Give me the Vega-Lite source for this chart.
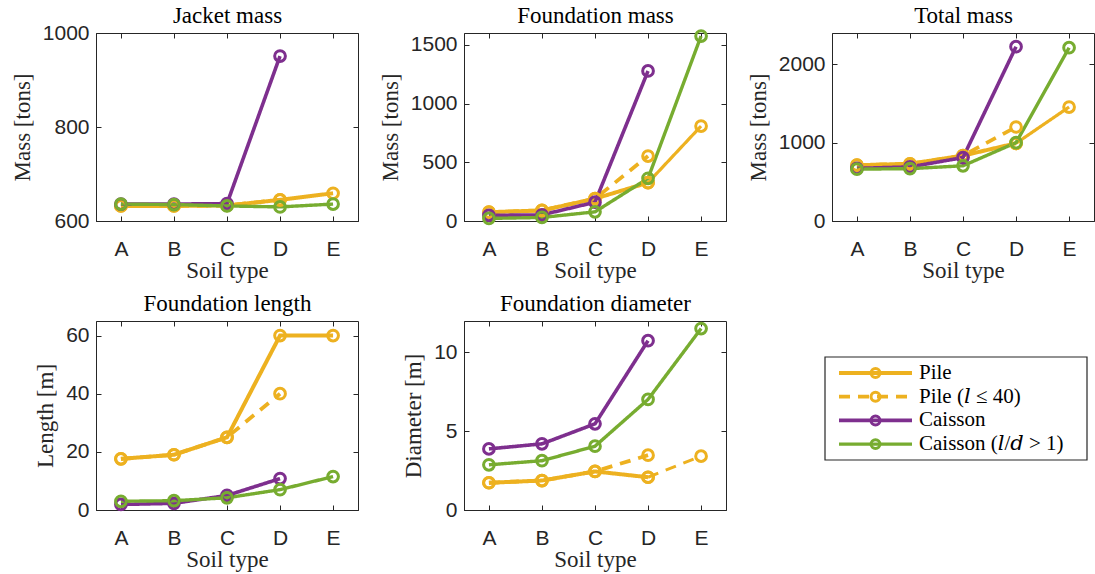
{
  "$schema": "https://vega.github.io/schema/vega-lite/v6.json",
  "padding": {"left": 10, "top": 4, "right": 0, "bottom": 0},
  "background": "white",
  "spacing": {"row": 9, "column": 19},
  "config": {
    "view": {"stroke": "#262626", "strokeWidth": 1},
    "axis": {"grid": false, "tickSize": -5, "tickColor": "#262626", "domainColor": "#262626", "labelColor": "#262626", "titleColor": "#262626", "labelFont": "Liberation Sans", "labelFontSize": 21, "titleFont": "Liberation Serif", "titleFontSize": 23, "titleFontWeight": "normal", "labelAngle": 0},
    "axisX": {"labelPadding": 22, "titlePadding": 0},
    "axisY": {"labelPadding": 12, "titlePadding": 8, "format": "d"}
  },
  "datasets": {
    "d": [
      {"panel": "Jacket mass", "series": "Pile", "soil": "A", "value": 632},
      {"panel": "Jacket mass", "series": "Pile", "soil": "B", "value": 632},
      {"panel": "Jacket mass", "series": "Pile", "soil": "C", "value": 633},
      {"panel": "Jacket mass", "series": "Pile", "soil": "D", "value": 645},
      {"panel": "Jacket mass", "series": "Pile", "soil": "E", "value": 659},
      {"panel": "Jacket mass", "series": "Pile (l ≤ 40)", "soil": "A", "value": 632},
      {"panel": "Jacket mass", "series": "Pile (l ≤ 40)", "soil": "B", "value": 632},
      {"panel": "Jacket mass", "series": "Pile (l ≤ 40)", "soil": "C", "value": 633},
      {"panel": "Jacket mass", "series": "Pile (l ≤ 40)", "soil": "D", "value": 645},
      {"panel": "Jacket mass", "series": "Caisson", "soil": "A", "value": 636},
      {"panel": "Jacket mass", "series": "Caisson", "soil": "B", "value": 636},
      {"panel": "Jacket mass", "series": "Caisson", "soil": "C", "value": 637},
      {"panel": "Jacket mass", "series": "Caisson", "soil": "D", "value": 951},
      {"panel": "Jacket mass", "series": "Caisson (l/d > 1)", "soil": "A", "value": 636},
      {"panel": "Jacket mass", "series": "Caisson (l/d > 1)", "soil": "B", "value": 635},
      {"panel": "Jacket mass", "series": "Caisson (l/d > 1)", "soil": "C", "value": 632},
      {"panel": "Jacket mass", "series": "Caisson (l/d > 1)", "soil": "D", "value": 630},
      {"panel": "Jacket mass", "series": "Caisson (l/d > 1)", "soil": "E", "value": 636},

      {"panel": "Foundation mass", "series": "Pile", "soil": "A", "value": 75},
      {"panel": "Foundation mass", "series": "Pile", "soil": "B", "value": 90},
      {"panel": "Foundation mass", "series": "Pile", "soil": "C", "value": 190},
      {"panel": "Foundation mass", "series": "Pile", "soil": "D", "value": 326},
      {"panel": "Foundation mass", "series": "Pile (thin)", "soil": "D", "value": 326},
      {"panel": "Foundation mass", "series": "Pile (thin)", "soil": "E", "value": 808},
      {"panel": "Foundation mass", "series": "Pile (l ≤ 40)", "soil": "A", "value": 75},
      {"panel": "Foundation mass", "series": "Pile (l ≤ 40)", "soil": "B", "value": 90},
      {"panel": "Foundation mass", "series": "Pile (l ≤ 40)", "soil": "C", "value": 190},
      {"panel": "Foundation mass", "series": "Pile (l ≤ 40)", "soil": "D", "value": 553},
      {"panel": "Foundation mass", "series": "Caisson", "soil": "A", "value": 48},
      {"panel": "Foundation mass", "series": "Caisson", "soil": "B", "value": 52},
      {"panel": "Foundation mass", "series": "Caisson", "soil": "C", "value": 160},
      {"panel": "Foundation mass", "series": "Caisson", "soil": "D", "value": 1277},
      {"panel": "Foundation mass", "series": "Caisson (l/d > 1)", "soil": "A", "value": 22},
      {"panel": "Foundation mass", "series": "Caisson (l/d > 1)", "soil": "B", "value": 30},
      {"panel": "Foundation mass", "series": "Caisson (l/d > 1)", "soil": "C", "value": 78},
      {"panel": "Foundation mass", "series": "Caisson (l/d > 1)", "soil": "D", "value": 363},
      {"panel": "Foundation mass", "series": "Caisson (l/d > 1)", "soil": "E", "value": 1574},

      {"panel": "Total mass", "series": "Pile", "soil": "A", "value": 712},
      {"panel": "Total mass", "series": "Pile", "soil": "B", "value": 730},
      {"panel": "Total mass", "series": "Pile", "soil": "C", "value": 835},
      {"panel": "Total mass", "series": "Pile", "soil": "D", "value": 992},
      {"panel": "Total mass", "series": "Pile (thin)", "soil": "D", "value": 992},
      {"panel": "Total mass", "series": "Pile (thin)", "soil": "E", "value": 1455},
      {"panel": "Total mass", "series": "Pile (l ≤ 40)", "soil": "A", "value": 712},
      {"panel": "Total mass", "series": "Pile (l ≤ 40)", "soil": "B", "value": 730},
      {"panel": "Total mass", "series": "Pile (l ≤ 40)", "soil": "C", "value": 835},
      {"panel": "Total mass", "series": "Pile (l ≤ 40)", "soil": "D", "value": 1200},
      {"panel": "Total mass", "series": "Caisson", "soil": "A", "value": 672},
      {"panel": "Total mass", "series": "Caisson", "soil": "B", "value": 690},
      {"panel": "Total mass", "series": "Caisson", "soil": "C", "value": 810},
      {"panel": "Total mass", "series": "Caisson", "soil": "D", "value": 2225},
      {"panel": "Total mass", "series": "Caisson (l/d > 1)", "soil": "A", "value": 662},
      {"panel": "Total mass", "series": "Caisson (l/d > 1)", "soil": "B", "value": 668},
      {"panel": "Total mass", "series": "Caisson (l/d > 1)", "soil": "C", "value": 705},
      {"panel": "Total mass", "series": "Caisson (l/d > 1)", "soil": "D", "value": 1000},
      {"panel": "Total mass", "series": "Caisson (l/d > 1)", "soil": "E", "value": 2212},

      {"panel": "Foundation length", "series": "Pile", "soil": "A", "value": 17.6},
      {"panel": "Foundation length", "series": "Pile", "soil": "B", "value": 19},
      {"panel": "Foundation length", "series": "Pile", "soil": "C", "value": 25},
      {"panel": "Foundation length", "series": "Pile", "soil": "D", "value": 60},
      {"panel": "Foundation length", "series": "Pile", "soil": "E", "value": 60},
      {"panel": "Foundation length", "series": "Pile (l ≤ 40)", "soil": "A", "value": 17.6},
      {"panel": "Foundation length", "series": "Pile (l ≤ 40)", "soil": "B", "value": 19},
      {"panel": "Foundation length", "series": "Pile (l ≤ 40)", "soil": "C", "value": 25},
      {"panel": "Foundation length", "series": "Pile (l ≤ 40)", "soil": "D", "value": 40},
      {"panel": "Foundation length", "series": "Caisson", "soil": "A", "value": 1.9},
      {"panel": "Foundation length", "series": "Caisson", "soil": "B", "value": 2.3},
      {"panel": "Foundation length", "series": "Caisson", "soil": "C", "value": 5},
      {"panel": "Foundation length", "series": "Caisson", "soil": "D", "value": 10.8},
      {"panel": "Foundation length", "series": "Caisson (l/d > 1)", "soil": "A", "value": 3},
      {"panel": "Foundation length", "series": "Caisson (l/d > 1)", "soil": "B", "value": 3.2},
      {"panel": "Foundation length", "series": "Caisson (l/d > 1)", "soil": "C", "value": 4.2},
      {"panel": "Foundation length", "series": "Caisson (l/d > 1)", "soil": "D", "value": 7},
      {"panel": "Foundation length", "series": "Caisson (l/d > 1)", "soil": "E", "value": 11.5},

      {"panel": "Foundation diameter", "series": "Pile", "soil": "A", "value": 1.73},
      {"panel": "Foundation diameter", "series": "Pile", "soil": "B", "value": 1.87},
      {"panel": "Foundation diameter", "series": "Pile", "soil": "C", "value": 2.45},
      {"panel": "Foundation diameter", "series": "Pile", "soil": "D", "value": 2.08},
      {"panel": "Foundation diameter", "series": "Pile (dashed)", "soil": "D", "value": 2.08},
      {"panel": "Foundation diameter", "series": "Pile (dashed)", "soil": "E", "value": 3.42},
      {"panel": "Foundation diameter", "series": "Pile (l ≤ 40)", "soil": "A", "value": 1.73},
      {"panel": "Foundation diameter", "series": "Pile (l ≤ 40)", "soil": "B", "value": 1.87},
      {"panel": "Foundation diameter", "series": "Pile (l ≤ 40)", "soil": "C", "value": 2.45},
      {"panel": "Foundation diameter", "series": "Pile (l ≤ 40)", "soil": "D", "value": 3.48},
      {"panel": "Foundation diameter", "series": "Caisson", "soil": "A", "value": 3.88},
      {"panel": "Foundation diameter", "series": "Caisson", "soil": "B", "value": 4.2},
      {"panel": "Foundation diameter", "series": "Caisson", "soil": "C", "value": 5.47},
      {"panel": "Foundation diameter", "series": "Caisson", "soil": "D", "value": 10.75},
      {"panel": "Foundation diameter", "series": "Caisson (l/d > 1)", "soil": "A", "value": 2.87},
      {"panel": "Foundation diameter", "series": "Caisson (l/d > 1)", "soil": "B", "value": 3.13},
      {"panel": "Foundation diameter", "series": "Caisson (l/d > 1)", "soil": "C", "value": 4.05},
      {"panel": "Foundation diameter", "series": "Caisson (l/d > 1)", "soil": "D", "value": 7.02},
      {"panel": "Foundation diameter", "series": "Caisson (l/d > 1)", "soil": "E", "value": 11.52}
    ],
    "leg": [
      {"series": "Pile", "label": "Pile", "rank": 1},
      {"series": "Pile (l ≤ 40)", "label": "Pile (𝑙 ≤ 40)", "rank": 2},
      {"series": "Caisson", "label": "Caisson", "rank": 3},
      {"series": "Caisson (l/d > 1)", "label": "Caisson (𝑙/𝑑 > 1)", "rank": 4}
    ]
  },
  "columns": 3,
  "concat": [
    {
      "width": 262, "height": 188,
      "data": {"name": "d"},
      "transform": [{"filter": "datum.panel == 'Jacket mass'"}],
      "layer": [
        {"mark": {"type": "line"}, "encoding": {
          "x": {"field": "soil", "type": "ordinal", "scale": {"type": "point", "padding": 0.47, "domain": ["A", "B", "C", "D", "E"]}, "axis": {"title": "Soil type"}},
          "y": {"field": "value", "type": "quantitative", "scale": {"domain": [600, 1000], "nice": false, "zero": false}, "axis": {"values": [600, 800, 1000], "title": "Mass [tons]"}},
          "color": {"field": "series", "type": "nominal", "legend": null, "scale": {"domain": ["Pile", "Pile (l ≤ 40)", "Caisson", "Caisson (l/d > 1)", "Pile (thin)", "Pile (dashed)"], "range": ["#EDB120", "#EDB120", "#7E2F8E", "#77AC30", "#EDB120", "#EDB120"]}},
          "strokeDash": {"field": "series", "type": "nominal", "legend": null, "scale": {"domain": ["Pile", "Pile (l ≤ 40)", "Caisson", "Caisson (l/d > 1)", "Pile (thin)", "Pile (dashed)"], "range": [[1, 0], [11, 8], [1, 0], [1, 0], [1, 0], [11, 8]]}},
          "strokeWidth": {"field": "series", "type": "nominal", "legend": null, "scale": {"domain": ["Pile", "Pile (l ≤ 40)", "Caisson", "Caisson (l/d > 1)", "Pile (thin)", "Pile (dashed)"], "range": [4, 3, 4, 4, 2.6, 3]}}
        }},
        {"mark": {"type": "point", "shape": "circle", "filled": false, "size": 115, "strokeWidth": 3, "opacity": 1}, "encoding": {
          "x": {"field": "soil", "type": "ordinal", "axis": null},
          "y": {"field": "value", "type": "quantitative", "axis": null},
          "color": {"field": "series", "type": "nominal", "legend": null}
        }},
        {"mark": {"type": "point", "opacity": 0}, "encoding": {
          "x": {"field": "soil", "type": "ordinal", "axis": {"orient": "top", "labels": false, "domain": false, "title": "Jacket mass", "titleColor": "#000000", "titlePadding": 5}},
          "y": {"field": "value", "type": "quantitative", "axis": {"orient": "right", "labels": false, "domain": false, "title": null, "values": [600, 800, 1000]}}
        }}
      ],
      "resolve": {"axis": {"x": "independent", "y": "independent"}}
    },
    {
      "width": 262, "height": 188,
      "data": {"name": "d"},
      "transform": [{"filter": "datum.panel == 'Foundation mass'"}],
      "layer": [
        {"mark": {"type": "line"}, "encoding": {
          "x": {"field": "soil", "type": "ordinal", "scale": {"type": "point", "padding": 0.47, "domain": ["A", "B", "C", "D", "E"]}, "axis": {"title": "Soil type"}},
          "y": {"field": "value", "type": "quantitative", "scale": {"domain": [0, 1600], "nice": false}, "axis": {"values": [0, 500, 1000, 1500], "title": "Mass [tons]"}},
          "color": {"field": "series", "type": "nominal", "legend": null, "scale": {"domain": ["Pile", "Pile (l ≤ 40)", "Caisson", "Caisson (l/d > 1)", "Pile (thin)", "Pile (dashed)"], "range": ["#EDB120", "#EDB120", "#7E2F8E", "#77AC30", "#EDB120", "#EDB120"]}},
          "strokeDash": {"field": "series", "type": "nominal", "legend": null, "scale": {"domain": ["Pile", "Pile (l ≤ 40)", "Caisson", "Caisson (l/d > 1)", "Pile (thin)", "Pile (dashed)"], "range": [[1, 0], [11, 8], [1, 0], [1, 0], [1, 0], [11, 8]]}},
          "strokeWidth": {"field": "series", "type": "nominal", "legend": null, "scale": {"domain": ["Pile", "Pile (l ≤ 40)", "Caisson", "Caisson (l/d > 1)", "Pile (thin)", "Pile (dashed)"], "range": [4, 3, 4, 4, 2.6, 3]}}
        }},
        {"mark": {"type": "point", "shape": "circle", "filled": false, "size": 115, "strokeWidth": 3, "opacity": 1}, "encoding": {
          "x": {"field": "soil", "type": "ordinal", "axis": null},
          "y": {"field": "value", "type": "quantitative", "axis": null},
          "color": {"field": "series", "type": "nominal", "legend": null}
        }},
        {"mark": {"type": "point", "opacity": 0}, "encoding": {
          "x": {"field": "soil", "type": "ordinal", "axis": {"orient": "top", "labels": false, "domain": false, "title": "Foundation mass", "titleColor": "#000000", "titlePadding": 5}},
          "y": {"field": "value", "type": "quantitative", "axis": {"orient": "right", "labels": false, "domain": false, "title": null, "values": [0, 500, 1000, 1500]}}
        }}
      ],
      "resolve": {"axis": {"x": "independent", "y": "independent"}}
    },
    {
      "width": 262, "height": 188,
      "data": {"name": "d"},
      "transform": [{"filter": "datum.panel == 'Total mass'"}],
      "layer": [
        {"mark": {"type": "line"}, "encoding": {
          "x": {"field": "soil", "type": "ordinal", "scale": {"type": "point", "padding": 0.47, "domain": ["A", "B", "C", "D", "E"]}, "axis": {"title": "Soil type"}},
          "y": {"field": "value", "type": "quantitative", "scale": {"domain": [0, 2400], "nice": false}, "axis": {"values": [0, 1000, 2000], "title": "Mass [tons]"}},
          "color": {"field": "series", "type": "nominal", "legend": null, "scale": {"domain": ["Pile", "Pile (l ≤ 40)", "Caisson", "Caisson (l/d > 1)", "Pile (thin)", "Pile (dashed)"], "range": ["#EDB120", "#EDB120", "#7E2F8E", "#77AC30", "#EDB120", "#EDB120"]}},
          "strokeDash": {"field": "series", "type": "nominal", "legend": null, "scale": {"domain": ["Pile", "Pile (l ≤ 40)", "Caisson", "Caisson (l/d > 1)", "Pile (thin)", "Pile (dashed)"], "range": [[1, 0], [11, 8], [1, 0], [1, 0], [1, 0], [11, 8]]}},
          "strokeWidth": {"field": "series", "type": "nominal", "legend": null, "scale": {"domain": ["Pile", "Pile (l ≤ 40)", "Caisson", "Caisson (l/d > 1)", "Pile (thin)", "Pile (dashed)"], "range": [4, 3, 4, 4, 2.6, 3]}}
        }},
        {"mark": {"type": "point", "shape": "circle", "filled": false, "size": 115, "strokeWidth": 3, "opacity": 1}, "encoding": {
          "x": {"field": "soil", "type": "ordinal", "axis": null},
          "y": {"field": "value", "type": "quantitative", "axis": null},
          "color": {"field": "series", "type": "nominal", "legend": null}
        }},
        {"mark": {"type": "point", "opacity": 0}, "encoding": {
          "x": {"field": "soil", "type": "ordinal", "axis": {"orient": "top", "labels": false, "domain": false, "title": "Total mass", "titleColor": "#000000", "titlePadding": 5}},
          "y": {"field": "value", "type": "quantitative", "axis": {"orient": "right", "labels": false, "domain": false, "title": null, "values": [0, 1000, 2000]}}
        }}
      ],
      "resolve": {"axis": {"x": "independent", "y": "independent"}}
    },
    {
      "width": 262, "height": 189,
      "data": {"name": "d"},
      "transform": [{"filter": "datum.panel == 'Foundation length'"}],
      "layer": [
        {"mark": {"type": "line"}, "encoding": {
          "x": {"field": "soil", "type": "ordinal", "scale": {"type": "point", "padding": 0.47, "domain": ["A", "B", "C", "D", "E"]}, "axis": {"title": "Soil type"}},
          "y": {"field": "value", "type": "quantitative", "scale": {"domain": [0, 65], "nice": false}, "axis": {"values": [0, 20, 40, 60], "title": "Length [m]"}},
          "color": {"field": "series", "type": "nominal", "legend": null, "scale": {"domain": ["Pile", "Pile (l ≤ 40)", "Caisson", "Caisson (l/d > 1)", "Pile (thin)", "Pile (dashed)"], "range": ["#EDB120", "#EDB120", "#7E2F8E", "#77AC30", "#EDB120", "#EDB120"]}},
          "strokeDash": {"field": "series", "type": "nominal", "legend": null, "scale": {"domain": ["Pile", "Pile (l ≤ 40)", "Caisson", "Caisson (l/d > 1)", "Pile (thin)", "Pile (dashed)"], "range": [[1, 0], [11, 8], [1, 0], [1, 0], [1, 0], [11, 8]]}},
          "strokeWidth": {"field": "series", "type": "nominal", "legend": null, "scale": {"domain": ["Pile", "Pile (l ≤ 40)", "Caisson", "Caisson (l/d > 1)", "Pile (thin)", "Pile (dashed)"], "range": [4, 3, 4, 4, 2.6, 3]}}
        }},
        {"mark": {"type": "point", "shape": "circle", "filled": false, "size": 115, "strokeWidth": 3, "opacity": 1}, "encoding": {
          "x": {"field": "soil", "type": "ordinal", "axis": null},
          "y": {"field": "value", "type": "quantitative", "axis": null},
          "color": {"field": "series", "type": "nominal", "legend": null}
        }},
        {"mark": {"type": "point", "opacity": 0}, "encoding": {
          "x": {"field": "soil", "type": "ordinal", "axis": {"orient": "top", "labels": false, "domain": false, "title": "Foundation length", "titleColor": "#000000", "titlePadding": 5}},
          "y": {"field": "value", "type": "quantitative", "axis": {"orient": "right", "labels": false, "domain": false, "title": null, "values": [0, 20, 40, 60]}}
        }}
      ],
      "resolve": {"axis": {"x": "independent", "y": "independent"}}
    },
    {
      "width": 262, "height": 189,
      "data": {"name": "d"},
      "transform": [{"filter": "datum.panel == 'Foundation diameter'"}],
      "layer": [
        {"mark": {"type": "line"}, "encoding": {
          "x": {"field": "soil", "type": "ordinal", "scale": {"type": "point", "padding": 0.47, "domain": ["A", "B", "C", "D", "E"]}, "axis": {"title": "Soil type"}},
          "y": {"field": "value", "type": "quantitative", "scale": {"domain": [0, 12], "nice": false}, "axis": {"values": [0, 5, 10], "title": "Diameter [m]"}},
          "color": {"field": "series", "type": "nominal", "legend": null, "scale": {"domain": ["Pile", "Pile (l ≤ 40)", "Caisson", "Caisson (l/d > 1)", "Pile (thin)", "Pile (dashed)"], "range": ["#EDB120", "#EDB120", "#7E2F8E", "#77AC30", "#EDB120", "#EDB120"]}},
          "strokeDash": {"field": "series", "type": "nominal", "legend": null, "scale": {"domain": ["Pile", "Pile (l ≤ 40)", "Caisson", "Caisson (l/d > 1)", "Pile (thin)", "Pile (dashed)"], "range": [[1, 0], [11, 8], [1, 0], [1, 0], [1, 0], [11, 8]]}},
          "strokeWidth": {"field": "series", "type": "nominal", "legend": null, "scale": {"domain": ["Pile", "Pile (l ≤ 40)", "Caisson", "Caisson (l/d > 1)", "Pile (thin)", "Pile (dashed)"], "range": [4, 3, 4, 4, 2.6, 3]}}
        }},
        {"mark": {"type": "point", "shape": "circle", "filled": false, "size": 115, "strokeWidth": 3, "opacity": 1}, "encoding": {
          "x": {"field": "soil", "type": "ordinal", "axis": null},
          "y": {"field": "value", "type": "quantitative", "axis": null},
          "color": {"field": "series", "type": "nominal", "legend": null}
        }},
        {"mark": {"type": "point", "opacity": 0}, "encoding": {
          "x": {"field": "soil", "type": "ordinal", "axis": {"orient": "top", "labels": false, "domain": false, "title": "Foundation diameter", "titleColor": "#000000", "titlePadding": 5}},
          "y": {"field": "value", "type": "quantitative", "axis": {"orient": "right", "labels": false, "domain": false, "title": null, "values": [0, 5, 10]}}
        }}
      ],
      "resolve": {"axis": {"x": "independent", "y": "independent"}}
    },
    {
      "width": 262, "height": 189,
      "view": {"stroke": null},
      "data": {"name": "leg"},
      "layer": [
        {
          "transform": [{"filter": "datum.rank == 1"}],
          "mark": {"type": "rect", "fill": "#ffffff", "stroke": "#262626", "strokeWidth": 1.2},
          "encoding": {
            "x": {"datum": -7, "type": "quantitative", "scale": {"domain": [0, 262], "nice": false, "zero": false}, "axis": null},
            "x2": {"datum": 255},
            "y": {"datum": 0.325, "type": "quantitative", "scale": {"domain": [-1.194, 6.78], "reverse": true, "nice": false, "zero": false}, "axis": null},
            "y2": {"datum": 4.67}
          }
        },
        {
          "mark": {"type": "rule"},
          "encoding": {
            "x": {"datum": 7, "type": "quantitative"},
            "x2": {"datum": 80},
            "y": {"field": "rank", "type": "quantitative"},
            "color": {"field": "series", "type": "nominal", "legend": null, "scale": {"domain": ["Pile", "Pile (l ≤ 40)", "Caisson", "Caisson (l/d > 1)"], "range": ["#EDB120", "#EDB120", "#7E2F8E", "#77AC30"]}},
            "strokeDash": {"field": "series", "type": "nominal", "legend": null, "scale": {"domain": ["Pile", "Pile (l ≤ 40)", "Caisson", "Caisson (l/d > 1)"], "range": [[1, 0], [11, 17, 15, 21, 11, 30], [1, 0], [1, 0]]}},
            "strokeWidth": {"field": "series", "type": "nominal", "legend": null, "scale": {"domain": ["Pile", "Pile (l ≤ 40)", "Caisson", "Caisson (l/d > 1)"], "range": [4, 3, 4, 4]}}
          }
        },
        {
          "mark": {"type": "point", "shape": "circle", "filled": false, "size": 80, "strokeWidth": 3, "opacity": 1},
          "encoding": {
            "x": {"datum": 43.5, "type": "quantitative"},
            "y": {"field": "rank", "type": "quantitative"},
            "color": {"field": "series", "type": "nominal", "legend": null}
          }
        },
        {
          "mark": {"type": "text", "align": "left", "baseline": "middle", "font": "Liberation Serif, DejaVu Serif", "fontSize": 21, "color": "#000000"},
          "encoding": {
            "x": {"datum": 87, "type": "quantitative"},
            "y": {"field": "rank", "type": "quantitative"},
            "text": {"field": "label"}
          }
        }
      ]
    }
  ]
}
